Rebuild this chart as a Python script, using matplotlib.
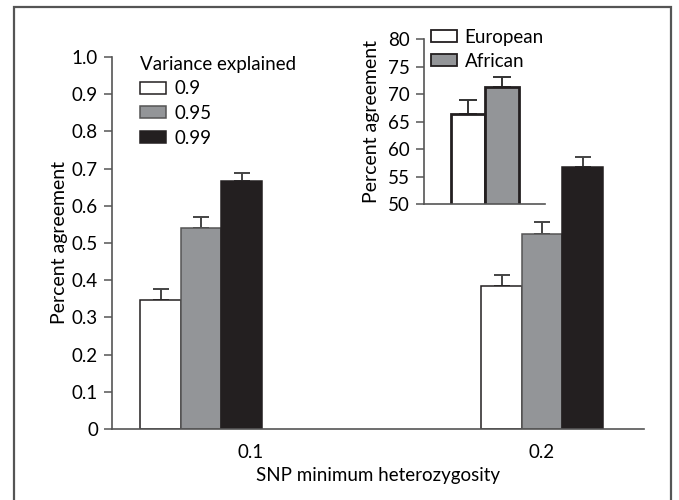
import matplotlib
matplotlib.use("Agg")
import matplotlib.pyplot as plt
from matplotlib.patches import Rectangle, Patch
import numpy as np

plt.rcParams['font.family'] = ['Lato', 'DejaVu Sans']

# ---- data ----
groups = ["0.1", "0.2"]
series = ["0.9", "0.95", "0.99"]
vals_09 = [0.348, 0.384]
vals_095 = [0.540, 0.525]
vals_099 = [0.667, 0.705]
err_09 = [0.028, 0.030]
err_095 = [0.030, 0.031]
err_099 = [0.022, 0.025]

inset_cats = ["European", "African"]
inset_vals = [66.4, 71.3]
inset_err = [2.5, 1.8]

W, H = 679, 500
fig = plt.figure(figsize=(W / 100, H / 100), dpi=100)

# outer frame
fig.patches.append(Rectangle((14 / W, -0.05), (671 - 14) / W, 1 - 7 / H + 0.05,
                             transform=fig.transFigure, fill=False,
                             edgecolor="#555555", linewidth=1.6))

dark = "#231f20"
gray = "#939598"
axcol = "#555555"
fs = 13.5

def px_axes(l, t, r, b):
    return fig.add_axes([l / W, 1 - b / H, (r - l) / W, (b - t) / H])

# ---- main axes ----
ax = px_axes(112, 57, 644, 429)
unit = 341.0
bw = 40.5 / unit
centers = np.array([0.0, 1.0])
colors = ["white", gray, dark]
edges = [dark, "#555555", dark]
vals = [vals_09, vals_095, vals_099]
errs = [err_09, err_095, err_099]
handles = []
for i, (v, e) in enumerate(zip(vals, errs)):
    x = centers + (i - 1) * bw
    ax.errorbar(x, v, yerr=[np.zeros(len(e)), e], fmt="none", ecolor="#444444",
                elinewidth=1.4, capsize=5.5, capthick=1.4, zorder=1)
    b = ax.bar(x, v, width=bw, color=colors[i], edgecolor=edges[i],
               linewidth=1.1, zorder=2)
    handles.append(Patch(facecolor=colors[i], edgecolor=edges[i], linewidth=1.1))

ax.set_xlim((112 - 201) / unit, (644 - 201) / unit)
ax.set_ylim(0, 1.0)
ax.set_yticks(np.round(np.arange(0, 1.01, 0.1), 1))
ax.set_yticklabels(["0"] + [f"{t:.1f}" for t in np.arange(0.1, 1.01, 0.1)])
ax.set_xticks([(251 - 201) / unit, 1.0])
ax.set_xticklabels(groups)
ax.tick_params(axis="x", length=0, pad=11, labelsize=fs)
ax.tick_params(axis="y", length=6, width=1.1, color=axcol, labelsize=fs, pad=4)
for s in ["top", "right"]:
    ax.spines[s].set_visible(False)
for s in ["left", "bottom"]:
    ax.spines[s].set_color(axcol)
    ax.spines[s].set_linewidth(1.2)
ax.set_ylabel("Percent agreement", fontsize=14, labelpad=3)
ax.set_xlabel("SNP minimum heterozygosity", fontsize=fs, labelpad=4)
ax.patch.set_alpha(0)

leg = ax.legend(handles, series, title="Variance explained", loc="upper left",
                bbox_to_anchor=(140 / W, 1 - 56 / H), bbox_transform=fig.transFigure,
                frameon=False, fontsize=fs, title_fontsize=fs,
                handlelength=1.4, handleheight=0.6, handletextpad=0.45,
                labelspacing=0.4, borderaxespad=0, borderpad=0)
leg._legend_box.align = "left"

# ---- inset axes ----
iax = px_axes(424, 39.3, 545, 204.3)
iunit = 34.3
ix = np.array([0.0, 1.0])
icolors = ["white", gray]
iax.errorbar(ix, inset_vals, yerr=[np.zeros(2), inset_err], fmt="none",
             ecolor="#333333", elinewidth=1.4, capsize=6.5, capthick=1.4, zorder=1)
ib = iax.bar(ix, inset_vals, width=1.0, bottom=0, color=icolors, edgecolor=dark,
             linewidth=2.0, zorder=2)
iax.set_xlim((424 - 467.9) / iunit, (545 - 467.9) / iunit)
iax.set_ylim(50, 80)
iax.set_yticks(np.arange(50, 81, 5))
iax.set_xticks([])
iax.tick_params(axis="y", length=6, width=1.1, color=axcol, labelsize=fs, pad=4)
for s in ["top", "right"]:
    iax.spines[s].set_visible(False)
for s in ["left", "bottom"]:
    iax.spines[s].set_color(axcol)
    iax.spines[s].set_linewidth(1.2)
iax.set_ylabel("Percent agreement", fontsize=14, labelpad=6)
iax.patch.set_alpha(0)
ihandles = [Patch(facecolor=c, edgecolor=dark, linewidth=1.3) for c in icolors]
iax.legend(ihandles, inset_cats, loc="upper left",
           bbox_to_anchor=(431 / W, 1 - 29 / H), bbox_transform=fig.transFigure,
           frameon=False, fontsize=fs, handlelength=1.4, handleheight=0.6,
           handletextpad=0.4, labelspacing=0.35, borderaxespad=0, borderpad=0)

fig.savefig("out.png", dpi=100)
